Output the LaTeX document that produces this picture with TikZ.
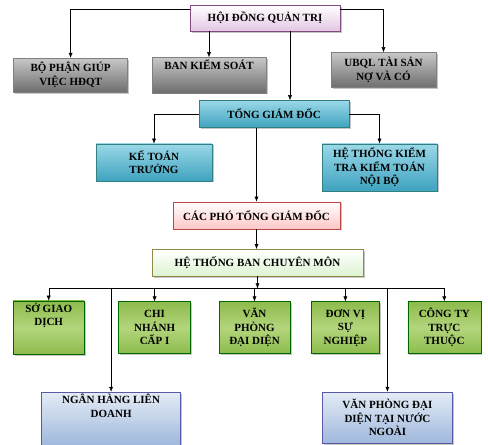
\documentclass[tikz,border=0pt]{standalone}
\usepackage{fontspec}
\setmainfont{Liberation Serif}
\usepackage{tikz}
\usetikzlibrary{positioning, arrows.meta, shadows}

\definecolor{grayTop}{HTML}{C8C8C8}
\definecolor{grayBot}{HTML}{6E6E6E}
\definecolor{tealTop}{HTML}{9AD8E8}
\definecolor{tealBot}{HTML}{3FA3BF}
\definecolor{greenTop}{HTML}{8DBB4C}
\definecolor{greenMid}{HTML}{B3D57C}
\definecolor{blueTop}{HTML}{E4ECF6}
\definecolor{blueBot}{HTML}{9FB8DC}

\begin{document}
\begin{tikzpicture}
	% Define styles
	\tikzset{
		block/.style={rectangle, draw=black!55, align=center, inner sep=2pt,
			font=\bfseries\fontsize{11}{13.5}\selectfont,
			drop shadow={shadow xshift=1.5pt, shadow yshift=-1.5pt, opacity=0.45}},
		board/.style={block, top color=white, bottom color=violet!22, draw=violet!40!gray},
		grayblock/.style={block, top color=grayTop, bottom color=grayBot, draw=gray},
		tealblock/.style={block, top color=tealTop, bottom color=tealBot, draw=teal!60!gray},
		pinkblock/.style={block, top color=white, bottom color=red!22, draw=red!45!gray},
		paleblock/.style={block, top color=white, bottom color=green!50!olive!18, draw=olive!50!gray},
		greenblock/.style={block, top color=greenTop, bottom color=greenTop, middle color=greenMid, draw=green!40!black, minimum width=70pt, minimum height=52pt},
		blueblock/.style={block, top color=blueTop, bottom color=blueBot, draw=blue!30!gray, minimum height=51pt, anchor=north},
		line/.style={draw, -{Latex[length=5pt,width=4pt]}}
	}
	\useasboundingbox (0,0) rectangle (488pt,-445pt);
	
	% Nodes
	\node[board, minimum width=150pt, minimum height=26pt] (hdqt) at (265pt,-18pt) {HỘI ĐỒNG QUẢN TRỊ};
	
	\node[grayblock, minimum width=114pt, minimum height=34pt, below=26pt of hdqt, xshift=-56pt] (bks) {BAN KIỂM SOÁT\\[8pt]};
	\node[grayblock, minimum width=114pt, minimum height=34pt, left=24pt of bks] (bpgv) {BỘ PHẬN GIÚP\\VIỆC HĐQT};
	\node[grayblock, minimum width=105pt, minimum height=35pt, below=21pt of hdqt, xshift=118.5pt] (ubql) {UBQL TÀI SẢN\\NỢ VÀ CÓ};
	
	\node[tealblock, minimum width=150pt, minimum height=27pt, below=69pt of hdqt, xshift=9pt] (tgd) {TỔNG GIÁM ĐỐC};
	\node[tealblock, minimum width=116pt, minimum height=37pt, below=16pt of tgd, xshift=-120pt] (ktt) {KẾ TOÁN\\TRƯỞNG};
	\node[tealblock, minimum width=115pt, minimum height=47pt, below=16pt of tgd, xshift=105.5pt] (htkt) {HỆ THỐNG KIỂM\\TRA KIỂM TOÁN\\NỘI BỘ};
	
	\node[pinkblock, minimum width=167pt, minimum height=27pt, below=74pt of tgd, xshift=-17.5pt] (cpt) {CÁC PHÓ TỔNG GIÁM ĐỐC};
	\node[paleblock, minimum width=211pt, minimum height=27pt, below=20pt of cpt, xshift=1pt] (htbcm) {HỆ THỐNG BAN CHUYÊN MÔN};
	
	\node[greenblock, minimum width=71pt, below=25pt of htbcm, xshift=-3pt] (vpdd) {VĂN\\PHÒNG\\ĐẠI DIỆN};
	\node[greenblock, minimum width=72pt, left=28pt of vpdd] (cn) {CHI\\NHÁNH\\CẤP I};
	\node[greenblock, minimum width=71pt, left=34pt of cn] (sgd) {SỞ GIAO\\DỊCH\\[13pt]};
	\node[greenblock, minimum width=68pt, right=21pt of vpdd] (dvsn) {ĐƠN VỊ\\SỰ\\NGHIỆP};
	\node[greenblock, minimum width=73pt, right=28pt of dvsn] (ctt) {CÔNG TY\\TRỰC\\THUỘC};
	
	\node[blueblock, minimum width=139pt, below=38pt of cn, xshift=-43.5pt] (nhld) {NGÂN HÀNG LIÊN\\DOANH\\[13pt]};
	\node[blueblock, minimum width=130pt, below=38pt of dvsn, xshift=42pt] (vpnn) {VĂN PHÒNG ĐẠI\\DIỆN TẠI NƯỚC\\NGOÀI};
	
	\coordinate (bus) at ([yshift=-12pt]htbcm.south);
	
	% Arrows
	\path [line] ([yshift=-4pt]hdqt.north west) -| (bpgv);
	\path [line] ([yshift=-4pt]hdqt.north east) -| (ubql);
	\path [line] (hdqt.south -| bks) -- (bks);
	\path [line] ([xshift=25pt]hdqt.south) -- ([xshift=25pt]hdqt.south |- tgd.north);
	
	\path [line] (tgd.west) -| (ktt);
	\path [line] (tgd.east) -| (htkt);
	\path [line] (tgd.south -| cpt) -- (cpt);
	\path [line] (cpt) -- (cpt |- htbcm.north);
	
	\path [line] (htbcm) -- (bus);
	\draw (bus -| sgd) -- (bus -| ctt);
	\path [line] (bus -| sgd) -- (sgd);
	\path [line] (bus -| cn) -- (cn);
	\path [line] (bus -| vpdd) -- (vpdd);
	\path [line] (bus -| dvsn) -- (dvsn);
	\path [line] (bus -| ctt) -- (ctt);
	\path [line] (bus -| nhld) -- (nhld);
	\path [line] (bus -| vpnn) -- (vpnn);
\end{tikzpicture}
\end{document}
